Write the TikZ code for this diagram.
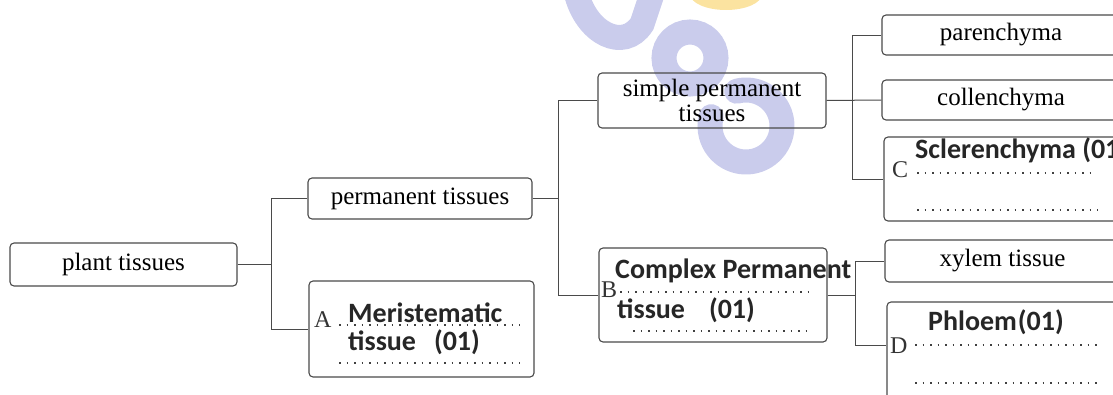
\documentclass[tikz,border=0pt]{standalone}
\usepackage{fontspec}
\setmainfont{Liberation Serif}
\newfontfamily\calibri{Carlito}
\usepackage{tikz}
\usetikzlibrary{positioning, calc}
\definecolor{boxline}{HTML}{4A4A4A}
\definecolor{marklilac}{HTML}{CACCEC}
\definecolor{markyellow}{HTML}{FBE3A0}
\newcommand{\seriftext}{\fontsize{25}{24.5}\selectfont}
\newcommand{\lettertext}{\fontsize{24}{26}\selectfont}
\newcommand{\answertext}{\calibri\bfseries\fontsize{28}{30}\selectfont}
\tikzset{
	tissuenode/.style={
			draw=boxline,
			line width=1.1pt,
			rounded corners=4pt,
			inner sep=0pt,
			align=center,
			font=\seriftext
		},
	answernode/.style={
			tissuenode
		},
	answerlabel/.style={
			anchor=base west,
			inner sep=0pt,
			font=\answertext,
			text=black!85
		},
	letterlabel/.style={
			anchor=base west,
			inner sep=0pt,
			font=\lettertext,
			text=black!80
		},
	linkline/.style={
			draw=boxline,
			line width=1pt
		},
	dotrow/.style={
			draw=black!75,
			line width=1.4pt,
			dash pattern=on 1.5pt off 6pt
		},
	watermark/.style={
			draw=marklilac,
			line width=25pt,
			line cap=round
		}
}
\begin{document}
\begin{tikzpicture}[x=1pt, y=-1pt]
\useasboundingbox (0,0) rectangle (1113,394);
\clip (0,0) rectangle (1113,394);

\fill[markyellow] (726,-6) ellipse [x radius=36, y radius=16];
\draw[watermark] (576,-8) .. controls (586,34) and (624,52) .. (642,24) -- (652,-6);
\draw[watermark] (690,58) circle [radius=26];
\draw[watermark] (746,126) ++(255:36) arc[start angle=255, end angle=555, radius=36];

\node[tissuenode, minimum width=227, minimum height=43] (plant) at (123.5,264.5) {plant tissues};
\node[tissuenode, minimum width=224, minimum height=41] (perm) at (420,198.5) {permanent tissues};
\node[answernode, minimum width=225, minimum height=96] (meri) at (421.5,329) {};
\node[tissuenode, minimum width=228, minimum height=55] (simple) at (712,100.5)
  {simple permanent\\tissues};
\node[answernode, minimum width=228, minimum height=94] (complex) at (713,295) {};
\node[tissuenode, minimum width=238, minimum height=40] (paren) at (1001,35) {parenchyma};
\node[tissuenode, minimum width=238, minimum height=40] (colle) at (1001,100) {collenchyma};
\node[answernode, minimum width=236, minimum height=84] (scler) at (1002,179) {};
\node[tissuenode, minimum width=235, minimum height=42] (xylem) at (1002.5,261) {xylem tissue};
\node[answernode, minimum width=233, minimum height=108] (phloem) at (1003.5,356) {};

\node[letterlabel] (la) at (314,327) {A};
\node[answerlabel] (ma1) at (348,322) {Meristematic};
\node[answerlabel] (ma2) at (348,350) {tissue\hspace{18pt}(01)};
\draw[dotrow] (339,325) -- (520,325);
\draw[dotrow] (339,363) -- (520,363);

\node[letterlabel] (lb) at (601,297) {B};
\node[answerlabel] (mb1) at (615,278) {Complex Permanent};
\node[answerlabel] (mb2) at (617,318) {tissue\hspace{24pt}(01)};
\draw[dotrow] (620,292) -- (812,292);
\draw[dotrow] (633,331) -- (812,331);

\node[letterlabel] (lc) at (892,177) {C};
\node[answerlabel] (mc1) at (915,158) {Sclerenchyma (01)};
\draw[dotrow] (917,173) -- (1093,173);
\draw[dotrow] (917,210) -- (1098,210);

\node[letterlabel] (ld) at (890,353) {D};
\node[answerlabel] (md1) at (928,330) {Phloem\hspace{1pt}(01)};
\draw[dotrow] (915,345) -- (1100,345);
\draw[dotrow] (915,383) -- (1098,383);

\draw[linkline] (plant.east) -- ++(34,0) |- (perm.west);
\draw[linkline] (plant.east) -- ++(34,0) |- (meri.west);
\draw[linkline] (perm.east) -- ++(26,0) |- (simple.west);
\draw[linkline] (perm.east) -- ++(26,0) |- (complex.west);
\draw[linkline] (simple.east) -- ++(26,0) |- (paren.west);
\draw[linkline] (simple.east) -- (colle.west);
\draw[linkline] (simple.east) -- ++(26,0) |- (scler.west);
\draw[linkline] (complex.east) -- ++(28,0) |- (xylem.west);
\draw[linkline] (complex.east) -- ++(28,0) |- ([yshift=11pt]phloem.west);
\end{tikzpicture}
\end{document}
